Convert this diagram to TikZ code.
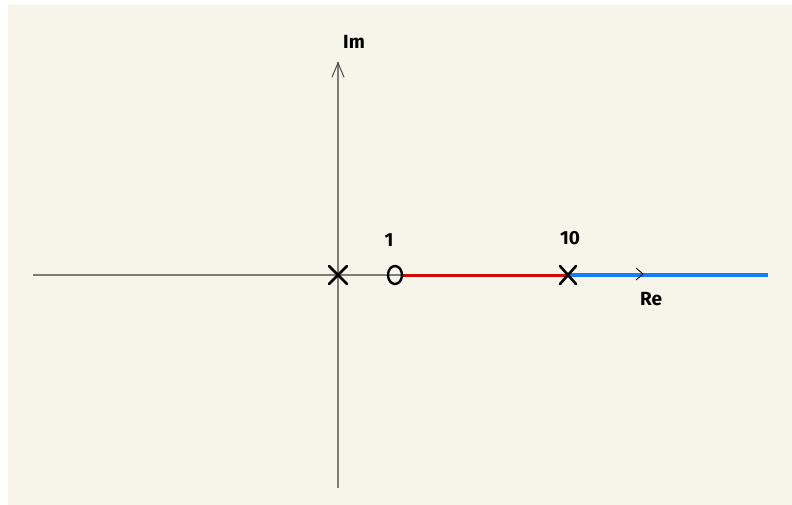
\documentclass[tikz,border=0pt]{standalone}
\usepackage{fontspec}
\setmainfont{Fira Sans}
\usetikzlibrary{calc,shapes.geometric}
\definecolor{cream}{RGB}{247,244,233}
\definecolor{axisgray}{RGB}{125,125,120}
\definecolor{locred}{RGB}{205,10,10}
\definecolor{locblue}{RGB}{20,125,250}
\tikzset{
  axisline/.style={draw=axisgray, line width=1.3pt},
  cross/.style={draw=black, line width=2.6pt, line cap=round},
  lbl/.style={font=\bfseries\fontsize{19}{22}\selectfont, text=black, inner sep=0pt},
}
\begin{document}
\begin{tikzpicture}[x=1pt,y=-1pt]
\useasboundingbox (0,0) rectangle (792,505);
\fill[white] (0,0) rectangle (792,505);
\fill[cream] (8,5) rectangle (792,505);
% axes
\coordinate (xl) at (33,275);
\coordinate (xr) at (768,275);
\coordinate (yb) at (338,488);
\coordinate (yt) at (338,62);
\draw[axisline] (xl) -- (xr);
\draw[axisline] (yb) -- (yt);
\draw[draw=black!70, line width=1pt, line cap=round] (332,77) -- (338,63) -- (344,77);
% loci
\coordinate (p0) at (338,275);
\coordinate (z1) at (395,275);
\coordinate (p10) at (568,275);
\draw[locred, line width=3pt] (402,275) -- (p10);
\draw[locblue, line width=3.5pt] (p10) -- (xr);
% direction mark on real axis
\draw[black, line width=0.9pt] (636,268) -- (643,274) -- (636,280);
% pole at origin
\draw[cross] ($(p0)+(-9,-9)$) -- ($(p0)+(9,9)$);
\draw[cross] ($(p0)+(-9,9)$) -- ($(p0)+(9,-9)$);
% zero at 1
\node[draw=black, line width=2.4pt, ellipse, minimum width=14pt, minimum height=18pt, inner sep=0pt] (zero) at (z1) {};
% pole at 10
\draw[cross] ($(p10)+(-8,-9)$) -- ($(p10)+(8,9)$);
\draw[cross] ($(p10)+(-8,9)$) -- ($(p10)+(8,-9)$);
% labels
\node[lbl] (lim) at (354,42) {Im};
\node[lbl] (lre) at (651,299) {Re};
\node[lbl] (l1) at (389,240) {1};
\node[lbl] (l10) at (570,238) {10};
\end{tikzpicture}
\end{document}
